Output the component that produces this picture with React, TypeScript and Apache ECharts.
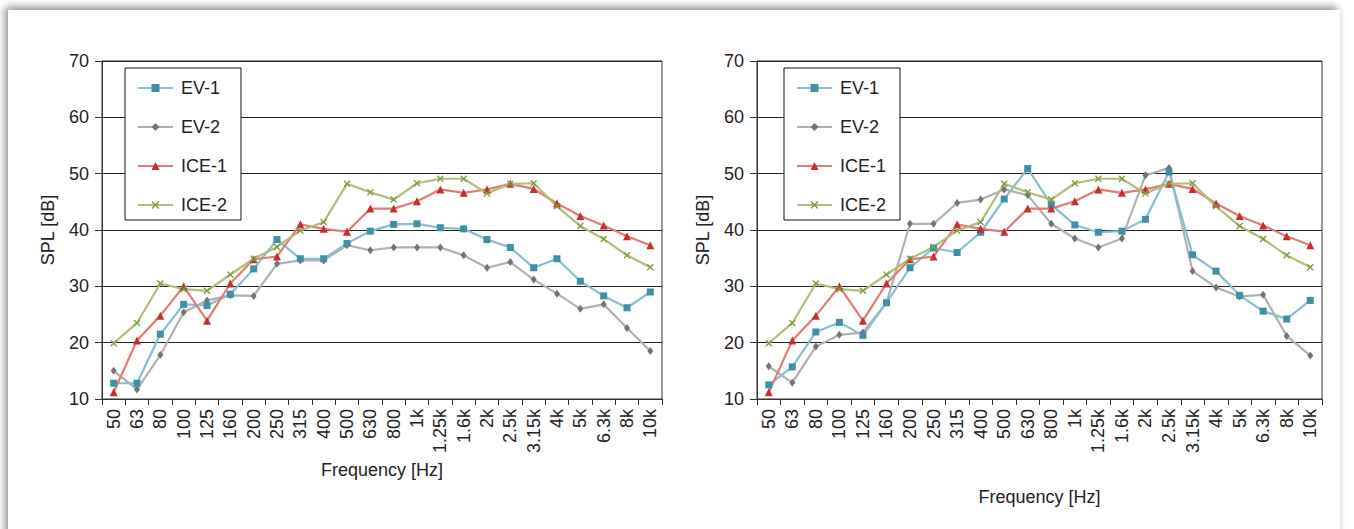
import React, { useEffect, useRef } from "react";
import * as echarts from "echarts";

const categories = ["50","63","80","100","125","160","200","250","315","400","500","630","800","1k","1.25k","1.6k","2k","2.5k","3.15k","4k","5k","6.3k","8k","10k"];
const seriesNames = ["EV-1", "EV-2", "ICE-1", "ICE-2"];

const ice1 = [11.2, 20.4, 24.8, 30.0, 23.9, 30.5, 34.8, 35.3, 41.0, 40.2, 39.7, 43.8, 43.8, 45.1, 47.2, 46.6, 47.2, 48.2, 47.3, 44.7, 42.5, 40.8, 38.9, 37.3];
const ice2 = [19.9, 23.5, 30.5, 29.5, 29.2, 32.1, 34.9, 37.0, 39.9, 41.4, 48.2, 46.7, 45.4, 48.3, 49.1, 49.1, 46.5, 48.2, 48.3, 44.2, 40.7, 38.4, 35.5, 33.4];
const leftEv1 = [12.8, 12.8, 21.5, 26.8, 26.6, 28.6, 33.1, 38.3, 34.9, 34.9, 37.6, 39.8, 41.0, 41.1, 40.4, 40.2, 38.3, 36.9, 33.3, 34.9, 30.9, 28.3, 26.2, 29.0];
const leftEv2 = [15.0, 11.7, 17.8, 25.4, 27.5, 28.4, 28.3, 34.0, 34.6, 34.6, 37.3, 36.4, 36.9, 36.9, 36.9, 35.5, 33.3, 34.3, 31.2, 28.7, 26.0, 26.8, 22.6, 18.5];
const rightEv1 = [12.5, 15.7, 21.9, 23.6, 21.3, 27.1, 33.3, 36.8, 36.0, 39.6, 45.5, 50.9, 44.5, 40.9, 39.6, 39.8, 41.9, 50.3, 35.6, 32.7, 28.4, 25.6, 24.2, 27.5];
const rightEv2 = [15.8, 12.9, 19.3, 21.4, 21.8, 27.1, 41.1, 41.1, 44.8, 45.4, 47.2, 46.2, 41.1, 38.5, 36.9, 38.5, 49.7, 51.0, 32.7, 29.8, 28.2, 28.5, 21.2, 17.7];

const yMin = 10;
const yMax = 70;
const yStep = 10;

const FONT = "'Liberation Sans', Arial, Helvetica, sans-serif";
const XMARK = "path://M0,1.4 L1.4,0 L5,3.6 L8.6,0 L10,1.4 L6.4,5 L10,8.6 L8.6,10 L5,6.4 L1.4,10 L0,8.6 L3.6,5 Z";

const styles: Record<string, { line: string; mark: string; symbol: string; size: number | number[] }> = {
  "EV-1": { line: "#86bfcf", mark: "#3f90a5", symbol: "rect", size: 7 },
  "EV-2": { line: "#b0b0b0", mark: "#737373", symbol: "diamond", size: [6, 8] },
  "ICE-1": { line: "#e47a78", mark: "#c4302e", symbol: "triangle", size: 8 },
  "ICE-2": { line: "#aebf78", mark: "#7f9c3e", symbol: XMARK, size: 7 },
};

function mkSeries(name: string, data: number[], idx: number) {
  const s = styles[name];
  return {
    type: "line",
    name,
    xAxisIndex: idx,
    yAxisIndex: idx,
    data,
    symbol: s.symbol,
    symbolSize: s.size,
    showAllSymbol: true,
    lineStyle: { color: s.line, width: 2.2 },
    itemStyle: { color: s.mark, borderWidth: 0 },
    emphasis: { disabled: true },
    z: 3,
  };
}

function mkAxes(idx: number, nameGap: number) {
  const x = {
    type: "category",
    gridIndex: idx,
    data: categories,
    boundaryGap: true,
    name: "Frequency [Hz]",
    nameLocation: "middle",
    nameGap,
    nameTextStyle: { fontSize: 18, color: "#222", fontFamily: FONT },
    axisLine: { lineStyle: { color: "#333", width: 1 } },
    axisTick: { show: true, length: 6, lineStyle: { color: "#333" } },
    axisLabel: { rotate: 90, margin: 10, fontSize: 18, color: "#222", fontFamily: FONT, interval: 0 },
    splitLine: { show: false },
  };
  const y = {
    type: "value",
    gridIndex: idx,
    min: yMin,
    max: yMax,
    interval: yStep,
    name: "SPL [dB]",
    nameLocation: "middle",
    nameGap: 45,
    nameTextStyle: { fontSize: 18, color: "#222", fontFamily: FONT },
    axisLine: { show: true, lineStyle: { color: "#333", width: 1 } },
    axisTick: { show: true, length: 7, lineStyle: { color: "#333" } },
    axisLabel: { margin: 13, fontSize: 18, color: "#222", fontFamily: FONT },
    splitLine: { show: true, lineStyle: { color: "#222", width: 1 } },
  };
  return { x, y };
}

function mkLegend(left: number) {
  return {
    orient: "vertical",
    left,
    top: 68,
    data: seriesNames,
    padding: [11, 14, 6, 12],
    itemGap: 21,
    itemWidth: 35,
    itemHeight: 10,
    backgroundColor: "#fff",
    borderColor: "#111",
    borderWidth: 1,
    selectedMode: false,
    textStyle: { fontSize: 18, color: "#222", fontFamily: FONT, padding: [0, 0, 0, 3] },
  };
}

export default function App() {
  const ref = useRef<HTMLDivElement>(null);
  useEffect(() => {
    if (!ref.current) return;
    const chart = echarts.init(ref.current, undefined, { renderer: "svg" });
    const a0 = mkAxes(0, 62);
    const a1 = mkAxes(1, 89);
    chart.setOption({
      animation: false,
      textStyle: { fontFamily: FONT },
      grid: [
        { left: 102, top: 61, width: 560, height: 338, show: true, borderColor: "#333", borderWidth: 1, backgroundColor: "transparent" },
        { left: 757, top: 61, width: 565, height: 338, show: true, borderColor: "#333", borderWidth: 1, backgroundColor: "transparent" },
      ],
      legend: [mkLegend(125), mkLegend(784)],
      xAxis: [a0.x, a1.x],
      yAxis: [a0.y, a1.y],
      series: [
        mkSeries("EV-2", leftEv2, 0),
        mkSeries("EV-1", leftEv1, 0),
        mkSeries("ICE-1", ice1, 0),
        mkSeries("ICE-2", ice2, 0),
        mkSeries("EV-2", rightEv2, 1),
        mkSeries("EV-1", rightEv1, 1),
        mkSeries("ICE-1", ice1, 1),
        mkSeries("ICE-2", ice2, 1),
      ],
    });
    return () => chart.dispose();
  }, []);
  return (
    <div style={{ position: "absolute", left: 0, top: 0, width: 1354, height: 529, overflow: "hidden", background: "#fff" }}>
      <div style={{ position: "absolute", left: 8, top: 10, width: 1332, height: 540, background: "#fff", boxShadow: "-3px -3px 8px rgba(0,0,0,0.45)" }} />
      <div ref={ref} style={{ position: "absolute", left: 0, top: 0, width: 1354, height: 529 }} />
    </div>
  );
}
